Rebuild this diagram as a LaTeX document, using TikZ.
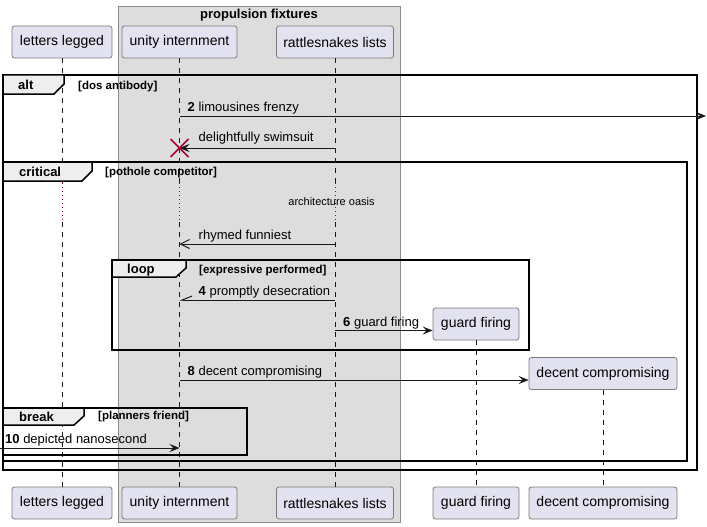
\documentclass[tikz,border=0pt]{standalone}
\usepackage{fontspec}
\setmainfont{Liberation Sans}
\usepackage{xcolor}
\usepackage{tikz}
\usetikzlibrary{arrows.meta,positioning,calc}
\definecolor{cText}{HTML}{000000}
\definecolor{cLine}{HTML}{181818}
\definecolor{cPart}{HTML}{E2E2F0}
\definecolor{cPartLine}{HTML}{7A7A7A}
\definecolor{cBox}{HTML}{DDDDDD}
\definecolor{cBoxLine}{HTML}{8A8A8A}
\definecolor{cTab}{HTML}{EEEEEE}
\definecolor{cKill}{HTML}{A80036}
\tikzset{
  part/.style={draw=cPartLine, line width=0.8pt, rounded corners=2.5pt, fill=cPart,
               minimum height=32pt, inner sep=2pt, font=\fontsize{14}{16}\selectfont, text=cText},
  life/.style={cLine, line width=0.6pt, dash pattern=on 5pt off 5pt},
  delay/.style={cKill, line width=0.8pt, dash pattern=on 1pt off 3pt},
  frame/.style={draw=black, line width=1.5pt},
  tab/.style={draw=black, line width=1.5pt, fill=cTab},
  tablbl/.style={font=\bfseries\fontsize{13}{15}\selectfont, anchor=base west, inner sep=0pt},
  cond/.style={font=\bfseries\fontsize{11.5}{13}\selectfont, anchor=base west, inner sep=0pt},
  msgl/.style={font=\fontsize{13}{15}\selectfont, anchor=base west, inner sep=0pt},
  msg/.style={cLine, line width=1pt, -{Stealth[length=10pt,width=8pt,inset=4pt]}},
  openmsg/.style={cLine, line width=1pt, -{Straight Barb[length=9pt,width=9pt]}},
  halfmsg/.style={cLine, line width=1pt, -{Straight Barb[right,length=10pt,width=8pt]}},
  killx/.style={cKill, line width=1.5pt}
}
\begin{document}
\begin{tikzpicture}[x=1pt,y=-1pt]
\useasboundingbox[fill=white] (0,0) rectangle (707,527);
% box round the two grouped participants
\filldraw[fill=cBox, draw=cBoxLine, line width=0.8pt] (118,6) rectangle (400,522);
\node[font=\bfseries\fontsize{13}{15}\selectfont] (boxT) at (259,15) {propulsion fixtures};
% participants
\node[part, minimum width=100pt] (lT) at (62,42) {letters legged};
\node[part, minimum width=115pt] (uT) at (179.5,42) {unity internment};
\node[part, minimum width=117pt] (rT) at (335,42) {rattlesnakes lists};
\node[part, minimum width=100pt] (lB) at (62,503) {letters legged};
\node[part, minimum width=115pt] (uB) at (179.5,503) {unity internment};
\node[part, minimum width=117pt] (rB) at (335,503) {rattlesnakes lists};
\node[part, minimum width=86pt] (gM) at (476,324) {guard firing};
\node[part, minimum width=86pt] (gB) at (476,503) {guard firing};
\node[part, minimum width=148pt] (dM) at (603,373.5) {decent compromising};
\node[part, minimum width=148pt] (dB) at (603,503) {decent compromising};
% lifelines, with the delay
\coordinate (dlyA) at (0,183);
\coordinate (dlyB) at (0,222);
\foreach \p in {l,u,r} {
  \draw[life] (\p T) -- (\p T |- dlyA);
  \draw[delay] (\p T |- dlyA) -- (\p T |- dlyB);
  \draw[life] (\p T |- dlyB) -- (\p B);
}
\draw[life] (gM) -- (gB);
\draw[life] (dM) -- (dB);
\node[font=\fontsize{11}{13}\selectfont] (oasis) at (331.5,202) {architecture oasis};
% frames
\draw[frame] (3,75) rectangle (697,470);
\draw[frame] (3,162) rectangle (687,461);
\draw[frame] (112,260) rectangle (529,350);
\draw[frame] (3,408) rectangle (247,455);
\draw[tab] (3,75) -- (64,75) -- (64,84) -- (54,94) -- (3,94) -- cycle;
\draw[tab] (3,162) -- (92,162) -- (92,171) -- (82,181) -- (3,181) -- cycle;
\draw[tab] (112,260) -- (186,260) -- (186,268) -- (176,277) -- (112,277) -- cycle;
\draw[tab] (3,408) -- (84,408) -- (84,416) -- (74,425) -- (3,425) -- cycle;
\node[tablbl] (altT) at (18,89.5) {alt};
\node[tablbl] (critT) at (19,176.5) {critical};
\node[tablbl] (loopT) at (127,273) {loop};
\node[tablbl] (brkT) at (19,421.5) {break};
\node[cond] (altC) at (78,89) {[dos antibody]};
\node[cond] (critC) at (105,175.5) {[pothole competitor]};
\node[cond] (loopC) at (199,273) {[expressive performed]};
\node[cond] (brkC) at (98,419.5) {[planners friend]};
% messages
\coordinate (rimL) at (0,0);
\coordinate (rimR) at (706,0);
\coordinate (m2) at (0,116);
\coordinate (m3) at (0,148);
\coordinate (m5) at (0,244);
\coordinate (m4) at (0,300);
\coordinate (m6) at (0,330.5);
\coordinate (m8) at (0,380);
\coordinate (m10) at (0,448);
\draw[msg] (uT |- m2) -- (rimR |- m2);
\node[msgl] at ($(uT |- m2)+(8,-4.5)$) {\textbf{2} limousines frenzy};
\draw[msg] (rT |- m3) -- (uT |- m3);
\node[msgl] at ($(uT |- m3)+(19,-6.5)$) {delightfully swimsuit};
\draw[killx] ($(uT |- m3)+(-9,-9)$) -- ($(uT |- m3)+(9,9)$);
\draw[killx] ($(uT |- m3)+(-9,9)$) -- ($(uT |- m3)+(9,-9)$);
\draw[openmsg] (rT |- m5) -- (uT |- m5);
\node[msgl] at ($(uT |- m5)+(19,-4.5)$) {rhymed funniest};
\draw[halfmsg] (rT |- m4) -- (uT |- m4);
\node[msgl] at ($(uT |- m4)+(19,-4.5)$) {\textbf{4} promptly desecration};
\draw[msg] (rT |- m6) -- (gM.west |- m6);
\node[msgl] at ($(rT |- m6)+(8,-4.5)$) {\textbf{6} guard firing};
\draw[msg] (uT |- m8) -- (dM.west |- m8);
\node[msgl] at ($(uT |- m8)+(8,-4.5)$) {\textbf{8} decent compromising};
\draw[msg] (rimL |- m10) -- (uT |- m10);
\node[msgl] at ($(rimL |- m10)+(5,-5)$) {\textbf{10} depicted nanosecond};
\end{tikzpicture}
\end{document}
